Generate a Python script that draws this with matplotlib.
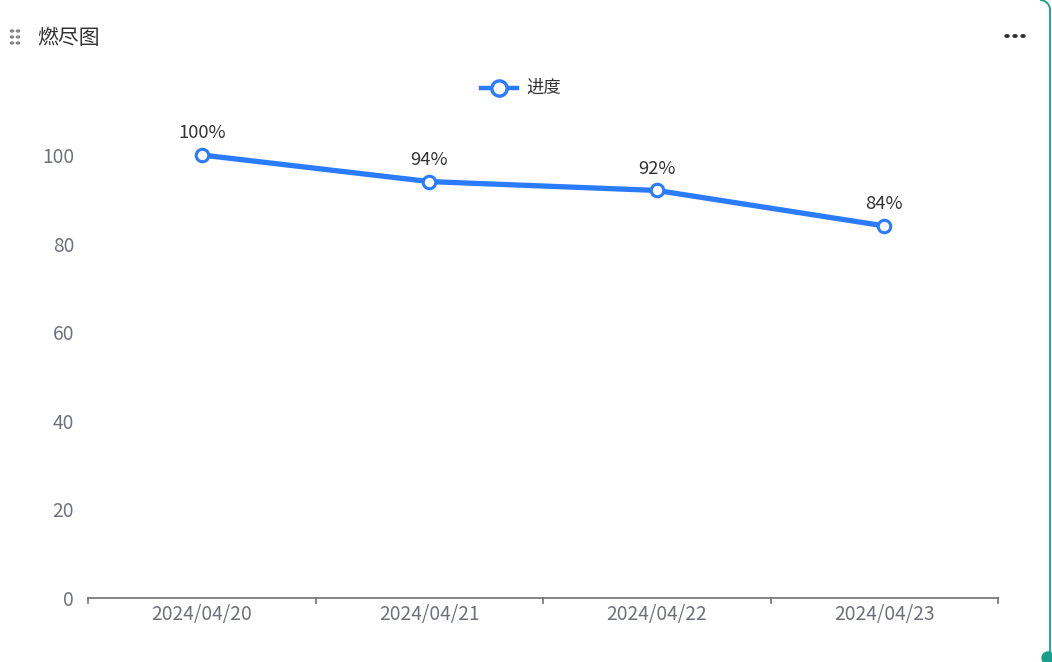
import matplotlib
matplotlib.use("Agg")
import matplotlib.pyplot as plt
from matplotlib.patches import Circle, Arc
from matplotlib.lines import Line2D

plt.rcParams['font.family'] = ['Noto Sans CJK SC', 'DejaVu Sans']

title = "燃尽图"
series_name = "进度"
dates = ['2024/04/20', '2024/04/21', '2024/04/22', '2024/04/23']
progress = [100, 94, 92, 84]
y_ticks = [0, 20, 40, 60, 80, 100]

blue = '#2b7bff'
grey = '#6e7079'
teal = '#16a08c'

fig = plt.figure(figsize=(10.52, 6.62), dpi=100)
ax = fig.add_axes([88/1052, 1-598/662, 910/1052, (598-155)/662])

x = list(range(len(dates)))
ax.plot(x, progress, color=blue, lw=3.8, marker='o', markersize=9,
        markerfacecolor='white', markeredgecolor=blue, markeredgewidth=2.2,
        clip_on=False, zorder=3)
for xi, v in zip(x, progress):
    ax.annotate(f"{v}%", (xi, v), xytext=(0, 9), textcoords='offset points',
                ha='center', va='bottom', fontsize=13.3, color='#333333')

ax.set_xlim(-0.5, len(dates) - 0.5)
ax.set_ylim(0, 100)
ax.set_yticks(y_ticks)
ax.set_yticklabels([str(t) for t in y_ticks], fontsize=13.8, color=grey)
ax.tick_params(axis='y', length=0, pad=10)

ax.set_xticks(x)
ax.set_xticklabels(dates, fontsize=13.8, color=grey)
ax.tick_params(axis='x', length=0, pad=4)
# boundary ticks
for b in [i - 0.5 for i in range(len(dates) + 1)]:
    ax.plot([b, b], [0, -1.2], color=grey, lw=1.2, clip_on=False)

for s in ['top', 'right', 'left']:
    ax.spines[s].set_visible(False)
ax.spines['bottom'].set_color(grey)
ax.spines['bottom'].set_linewidth(1.2)

# header
fig.text(37/1052, 1-38/662, title, fontsize=15, color='#333333', va='center', ha='left')
for dx in (12, 18):
    for dy in (31, 37, 43):
        fig.patches.append(Circle((dx/1052, 1-dy/662), 1.6/1052, transform=fig.transFigure,
                                  color='#888888'))
for dx in (1007, 1015, 1023):
    fig.patches.append(Circle((dx/1052, 1-36/662), 2.0/1052, transform=fig.transFigure,
                              color='#333333'))

# legend
ly = 1 - 88/662
fig.add_artist(Line2D([481/1052, 517/1052], [ly, ly], color=blue, lw=3.2))
fig.add_artist(Line2D([499/1052], [ly], marker='o', markersize=11, color=blue,
                      markerfacecolor='white', markeredgewidth=2.4))
fig.text(526/1052, ly, series_name, fontsize=12.5, color='#333333', va='center', ha='left')

# card border (mostly off-canvas) and resize handle, in inches
T = fig.dpi_scale_trans
fig.add_artist(Line2D([10.50, 10.50], [0.0, 6.52], color=teal, lw=1.3, transform=T))
fig.patches.append(Arc((10.40, 6.52), 0.2, 0.2, theta1=0, theta2=90, color=teal, lw=1.3, transform=T))
fig.patches.append(Arc((0.06, 6.56), 0.2, 0.2, theta1=90, theta2=180, color=teal, lw=1.3, transform=T))
fig.patches.append(Circle((10.48, 0.04), 0.06, transform=T, color=teal))

fig.savefig("out.png", dpi=100)
